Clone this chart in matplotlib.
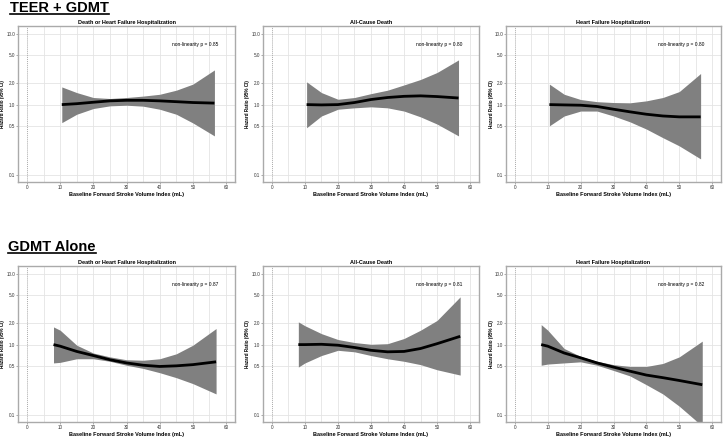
import matplotlib
matplotlib.use("Agg")
import matplotlib.pyplot as plt
from matplotlib.lines import Line2D
import numpy as np

plt.rcParams['font.family'] = ['Liberation Sans', 'DejaVu Sans']

group_titles = ["TEER + GDMT", "GDMT Alone"]
panel_titles = ["Death or Heart Failure Hospitalization", "All-Cause Death", "Heart Failure Hospitalization"]
p_values = [["0.85", "0.80", "0.80"], ["0.87", "0.81", "0.82"]]

x_top = [10.5, 15, 20, 25, 30, 35, 40, 45, 50, 56.5]
x_bot = [8, 10, 15, 20, 25, 30, 35, 40, 45, 50, 57]

# TEER + GDMT
hr_11 = [1.00, 1.03, 1.08, 1.13, 1.15, 1.15, 1.13, 1.10, 1.07, 1.05]
hi_11 = [1.78, 1.48, 1.26, 1.22, 1.26, 1.32, 1.40, 1.60, 1.95, 3.10]
lo_11 = [0.555, 0.73, 0.88, 0.96, 0.98, 0.95, 0.86, 0.73, 0.55, 0.36]

hr_12 = [1.00, 0.99, 1.00, 1.07, 1.18, 1.26, 1.31, 1.33, 1.30, 1.24]
hi_12 = [2.10, 1.48, 1.19, 1.26, 1.43, 1.60, 1.90, 2.27, 2.85, 4.30]
lo_12 = [0.47, 0.69, 0.86, 0.90, 0.93, 0.90, 0.81, 0.67, 0.53, 0.36]

hr_13 = [1.00, 0.99, 0.98, 0.94, 0.86, 0.79, 0.73, 0.69, 0.67, 0.67]
hi_13 = [1.95, 1.40, 1.18, 1.10, 1.07, 1.06, 1.13, 1.26, 1.53, 2.76]
lo_13 = [0.50, 0.69, 0.81, 0.81, 0.69, 0.57, 0.45, 0.34, 0.26, 0.17]

# GDMT Alone
hr_21 = [1.00, 0.95, 0.80, 0.70, 0.61, 0.55, 0.51, 0.49, 0.50, 0.52, 0.57]
hi_21 = [1.78, 1.60, 0.98, 0.76, 0.67, 0.61, 0.60, 0.63, 0.74, 0.98, 1.69]
lo_21 = [0.55, 0.56, 0.63, 0.63, 0.58, 0.51, 0.46, 0.40, 0.34, 0.28, 0.20]

hr_22 = [1.00, 1.00, 1.01, 0.98, 0.91, 0.83, 0.79, 0.80, 0.88, 1.03, 1.31]
hi_22 = [2.10, 1.85, 1.43, 1.18, 1.07, 1.01, 1.03, 1.22, 1.60, 2.20, 4.75]
lo_22 = [0.48, 0.55, 0.70, 0.83, 0.79, 0.70, 0.63, 0.58, 0.52, 0.44, 0.37]

hr_23 = [1.00, 0.95, 0.76, 0.65, 0.55, 0.48, 0.42, 0.37, 0.34, 0.31, 0.27]
hi_23 = [1.92, 1.60, 0.88, 0.68, 0.58, 0.52, 0.49, 0.49, 0.54, 0.67, 1.12]
lo_23 = [0.51, 0.53, 0.55, 0.57, 0.51, 0.43, 0.36, 0.27, 0.20, 0.134, 0.07]

panels = [
    [(x_top, hr_11, lo_11, hi_11), (x_top, hr_12, lo_12, hi_12), (x_top, hr_13, lo_13, hi_13)],
    [(x_bot, hr_21, lo_21, hi_21), (x_bot, hr_22, lo_22, hi_22), (x_bot, hr_23, lo_23, hi_23)],
]

y_ticks = [0.1, 0.5, 1.0, 2.0, 5.0, 10.0]
y_tick_labels = ["0.1", "0.5", "1.0", "2.0", "5.0", "10.0"]
x_ticks = [0, 10, 20, 30, 40, 50, 60]

W, H = 727, 437
fig = plt.figure(figsize=(W / 100, H / 100), dpi=100)

col_px = [(18, 235), (263, 479), (506, 721)]
row_px = [(26, 182), (266, 422)]

for r in range(2):
    for c in range(3):
        l, rr = col_px[c]
        t, b = row_px[r]
        ax = fig.add_axes([l / W, 1 - b / H, (rr - l) / W, (b - t) / H])
        x, hr, lo, hi = panels[r][c]
        ax.set_yscale('log')
        ax.set_xlim(-2.7, 62.7)
        ax.set_ylim(0.08, 13)
        for xv in range(5, 65, 5):
            ax.axvline(xv, color='#e4e4e4', lw=0.6, zorder=0)
        for yv in y_ticks:
            ax.axhline(yv, color='#e4e4e4', lw=0.6, zorder=0)
        ax.axvline(0, color='#aaaaaa', lw=0.7, ls=(0, (1, 1)), zorder=0)
        ax.fill_between(x, lo, hi, color='#808080', lw=0, zorder=2)
        ax.plot(x, hr, color='black', lw=2.0, zorder=3, solid_capstyle='butt')
        ax.set_yticks(y_ticks)
        ax.set_yticklabels(y_tick_labels)
        ax.yaxis.set_minor_locator(matplotlib.ticker.NullLocator())
        ax.set_xticks(x_ticks)
        ax.tick_params(labelsize=3.3, length=1.2, width=0.5, color='#888888', pad=1.0, labelcolor='#333333')
        for s in ax.spines.values():
            s.set_color('#aaaaaa')
            s.set_linewidth(1.0)
        ax.set_title(panel_titles[c], fontsize=4.0, fontweight='bold', pad=1.5)
        ax.set_xlabel("Baseline Forward Stroke Volume Index (mL)", fontsize=4.0, fontweight='bold', labelpad=1.5)
        ax.set_ylabel("Hazard Ratio (95% CI)", fontsize=3.3, fontweight='bold')
        ax.yaxis.set_label_coords(-12.5 / (rr - l), 0.5)
        ax.text(0.815, 0.88, "non-linearity p = " + p_values[r][c], transform=ax.transAxes,
                fontsize=3.5, ha='center', va='center')

title_pos = [(10, 12), (8, 251)]
fig.canvas.draw()
renderer = fig.canvas.get_renderer()
for (tx, ty), txt in zip(title_pos, group_titles):
    t = fig.text(tx / W, 1 - ty / H, txt, fontsize=10.5, fontweight='bold', ha='left', va='baseline')
    bb = t.get_window_extent(renderer=renderer)
    yline = 1 - (ty + 2) / H
    fig.add_artist(Line2D([bb.x0 / W, bb.x1 / W], [yline, yline], color='black', lw=1.2,
                          transform=fig.transFigure))

fig.savefig("out.png", dpi=100)
